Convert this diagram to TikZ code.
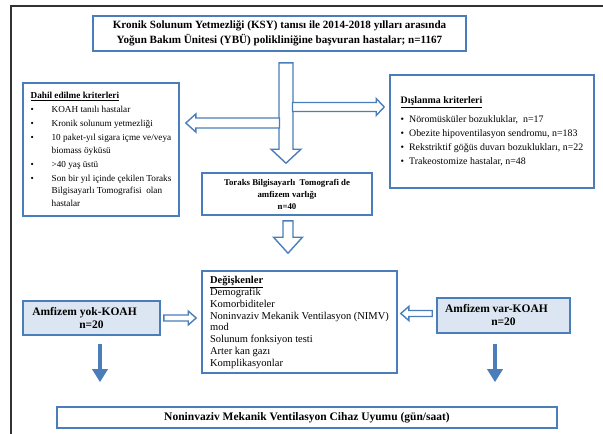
\documentclass[tikz,border=0pt]{standalone}
\usepackage{fontspec}
\setmainfont{Liberation Serif}
\usetikzlibrary{arrows.meta, calc, positioning}
\definecolor{boxBlue}{RGB}{74,126,187}
\definecolor{fillBlue}{RGB}{220,230,242}
\definecolor{frameGray}{RGB}{50,50,50}

\newcommand{\bul}{\makebox[21pt][l]{\textbullet}}
\newcommand{\ind}{\hspace*{21pt}}
% block arrow: from, to, half shaft, half head, head length
\newcommand{\hollowarrow}[5]{%
  \coordinate (hb) at ($(#2)!#5!(#1)$);
  \draw[hollow] ($(#1)!#3!90:(#2)$) -- ($(hb)!#3!-90:(#1)$) -- ($(hb)!#4!-90:(#1)$) -- (#2)
    -- ($(hb)!#4!90:(#1)$) -- ($(hb)!#3!90:(#1)$) -- ($(#1)!#3!-90:(#2)$) -- cycle;}

\begin{document}
\begin{tikzpicture}[x=1pt, y=-1pt,
    box/.style={rectangle, draw=boxBlue, line width=1.6pt, fill=white, inner sep=3pt},
    bluebox/.style={box, fill=fillBlue},
    hollow/.style={draw=boxBlue, line width=1.4pt, fill=white, line join=miter},
    downarrow/.style={draw=boxBlue, line width=4pt, -{Triangle[width=15pt, length=13pt]}},
    frame/.style={draw=frameGray, line width=1.2pt}
]
    \useasboundingbox (0,0) rectangle (603,434);
    \draw[frame] (603,6) -- (11,6) -- (11,434);

    % Top
    \node[box, minimum width=373pt, minimum height=35pt, align=center,
          font=\bfseries\fontsize{11.1}{15.5}\selectfont] (kronik) at (279.5,33.5)
        {Kronik Solunum Yetmezliği (KSY) tanısı ile 2014-2018 yılları arasında\\
         Yoğun Bakım Ünitesi (YBÜ) polikliniğine başvuran hastalar; n=1167};

    % Criteria
    \node[box, minimum width=156pt, minimum height=133pt,
          align=left, font=\fontsize{9.2}{12.5}\selectfont] (dahil) at (101,149.5)
        {\underline{\textbf{Dahil edilme kriterleri}}\\[1.5pt]
         \bul KOAH tanılı hastalar\\[1.5pt]
         \bul Kronik solunum yetmezliği\\[1.5pt]
         \bul 10 paket-yıl sigara içme ve/veya\\
         \ind biomass öyküsü\\[1.5pt]
         \bul >40 yaş üstü\\[1.5pt]
         \bul Son bir yıl içinde çekilen Toraks\\
         \ind Bilgisayarlı Tomografisi\ \ olan\\
         \ind hastalar};
    \node[box, minimum width=204pt, minimum height=113pt,
          align=left, font=\fontsize{9.9}{14}\selectfont] (dislanma) at (492,131.5)
        {\underline{\textbf{Dışlanma kriterleri}}\\[5pt]
         \textbullet\ \ Nöromüsküler bozukluklar, \ n=17\\
         \textbullet\ \ Obezite hipoventilasyon sendromu, n=183\\
         \textbullet\ \ Rekstriktif göğüs duvarı bozuklukları, n=22\\
         \textbullet\ \ Trakeostomize hastalar, n=48};

    % Middle
    \node[box, minimum width=170pt, minimum height=42pt, align=center,
          font=\bfseries\fontsize{8.8}{12}\selectfont] (toraks) at (287,194)
        {Toraks Bilgisayarlı\ \ Tomografi de\\ amfizem varlığı\\ n=40};
    \node[box, minimum width=195pt, minimum height=102pt,
          align=left, font=\fontsize{10.5}{11.7}\selectfont] (degisken) at (299.5,322)
        {\underline{\textbf{Değişkenler}}\\
         Demografik\\
         Komorbiditeler\\
         Noninvaziv Mekanik Ventilasyon (NIMV)\\
         mod\\
         Solunum fonksiyon testi\\
         Arter kan gazı\\
         Komplikasyonlar};
    \node[bluebox, minimum width=137pt, minimum height=34pt, align=center,
          font=\bfseries\fontsize{11.5}{13}\selectfont] (yok) at (91.5,318)
        {Amfizem yok-KOAH\hspace*{14pt}\\ n=20};
    \node[bluebox, minimum width=133pt, minimum height=35pt, align=center,
          font=\bfseries\fontsize{11.5}{13}\selectfont] (var) at (503.5,315.5)
        {Amfizem var-KOAH\hspace*{14pt}\\ n=20};

    % Bottom
    \node[box, minimum width=500pt, minimum height=21pt,
          font=\bfseries\fontsize{11.5}{13}\selectfont] (nimv) at (307,417.5)
        {Noninvaziv Mekanik Ventilasyon Cihaz Uyumu (gün/saat)};

    % Arrow ends
    \coordinate (v1s) at ($(kronik.south)+(6.5,11)$);
    \coordinate (v1e) at ($(toraks.north)+(-1,-9)$);
    \coordinate (lbs) at (279.5,123);
    \coordinate (lbe) at ($(dahil.east |- lbs)+(6,0)$);
    \coordinate (rbs) at (292.5,107);
    \coordinate (rbe) at ($(dislanma.west |- rbs)+(-5,0)$);
    \coordinate (v2s) at ($(toraks.south)+(1,5)$);
    \coordinate (v2e) at ($(degisken.north)+(-11.5,-17)$);
    \coordinate (ys) at ($(yok.east)+(3,0)$);
    \coordinate (ye) at ($(degisken.west |- yok.east)+(-5,0)$);
    \coordinate (vs) at ($(var.west)+(-4,-2)$);
    \coordinate (ve) at ($(degisken.east |- vs)+(3,0)$);

    % Hollow arrows
    \hollowarrow{v1s}{v1e}{7pt}{15pt}{14pt}
    \hollowarrow{lbs}{lbe}{5pt}{9pt}{10pt}
    \hollowarrow{rbs}{rbe}{4.5pt}{8.5pt}{8pt}
    \hollowarrow{v2s}{v2e}{5pt}{14.5pt}{16pt}
    \hollowarrow{ys}{ye}{3pt}{7pt}{8pt}
    \hollowarrow{vs}{ve}{3pt}{7pt}{8pt}

    % Solid arrows
    \draw[downarrow, shorten <=8pt, shorten >=24pt] ([xshift=8.5pt]yok.south) -- ([xshift=8.5pt]yok.south |- nimv.north);
    \draw[downarrow, shorten <=10pt, shorten >=24pt] ([xshift=-8.5pt]var.south) -- ([xshift=-8.5pt]var.south |- nimv.north);
\end{tikzpicture}
\end{document}
